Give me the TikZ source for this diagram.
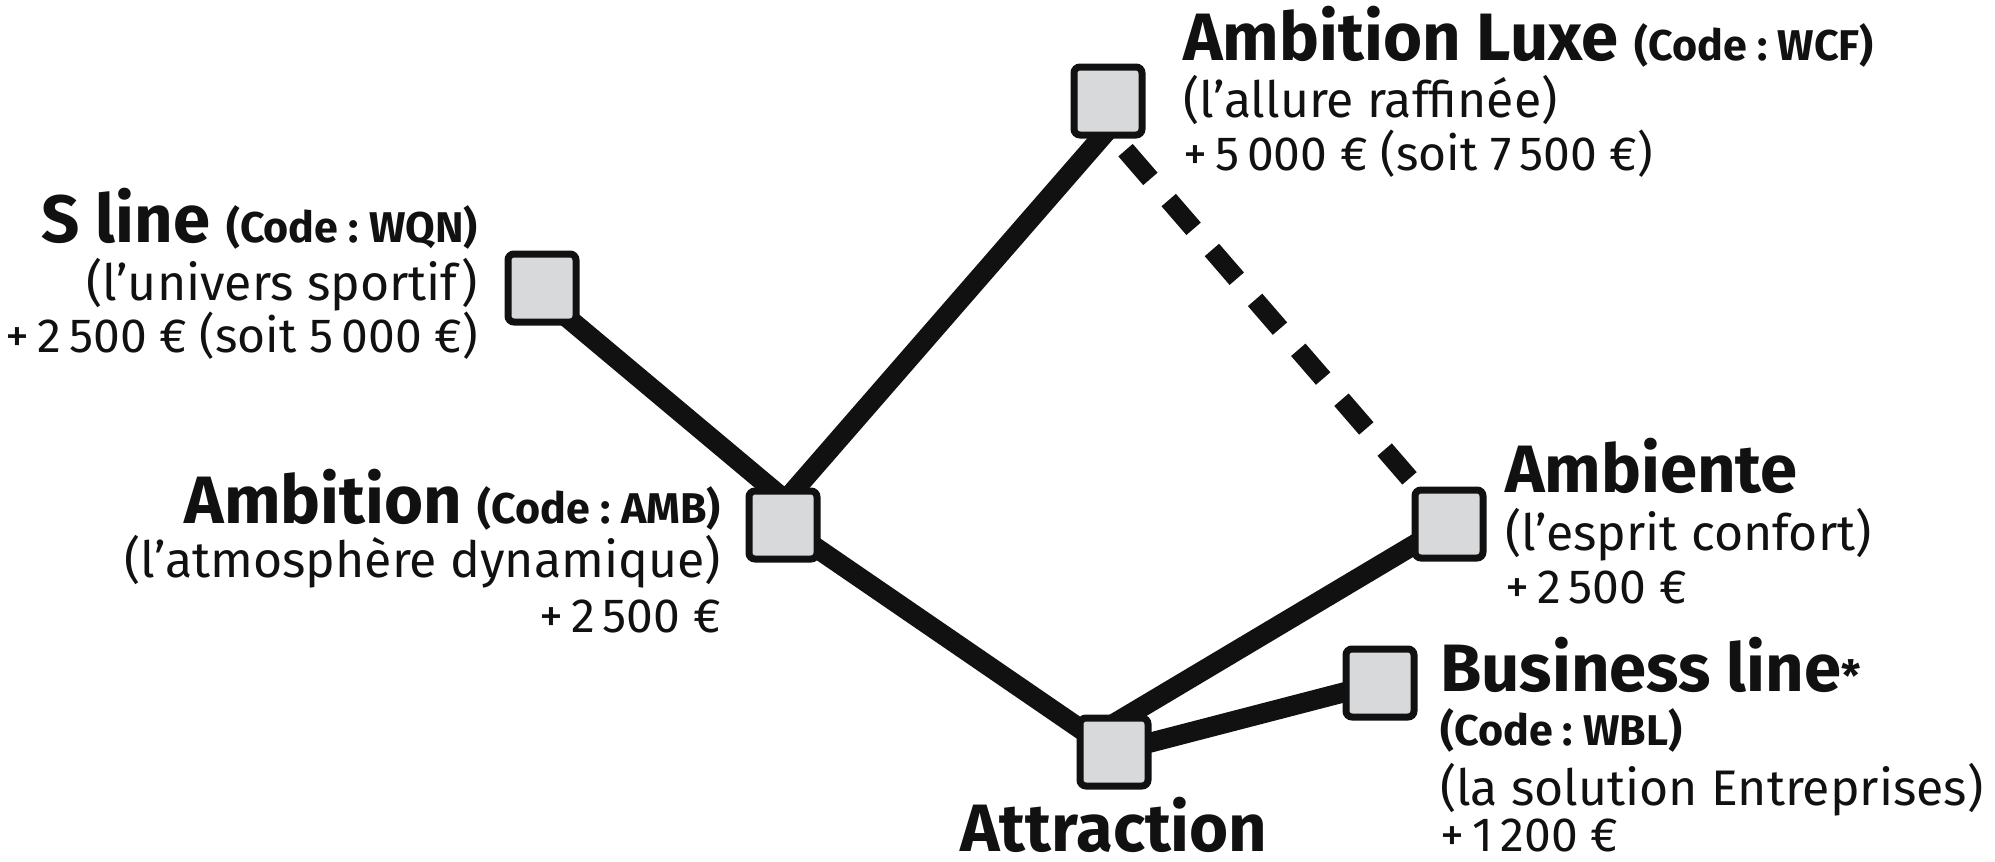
\documentclass[tikz,border=0pt]{standalone}
\usepackage{fontspec}
\setmainfont{Fira Sans}
\usetikzlibrary{backgrounds}
\definecolor{ink}{HTML}{111111}
\definecolor{boxfill}{HTML}{D8D9DB}
\newcommand{\codesize}{\fontsize{43}{43}\selectfont}
\begin{document}
\begin{tikzpicture}[x=1pt,y=-1pt,
  opt/.style={draw=ink, fill=boxfill, line width=7pt, rounded corners=6pt, minimum size=68pt, inner sep=0pt},
  link/.style={draw=ink, line width=20pt},
  dlink/.style={draw=ink, line width=19pt, dash pattern=on 38pt off 28pt, dash phase=1pt},
  head/.style={font=\fontsize{67}{67}\selectfont\bfseries, inner sep=0pt, text=ink},
  body/.style={font=\fontsize{50}{50}\selectfont, inner sep=0pt, text=ink},
  price/.style={font=\fontsize{48}{48}\selectfont, inner sep=0pt, text=ink},
  code/.style={font=\codesize\bfseries, inner sep=0pt, text=ink}]
\useasboundingbox (0,0) rectangle (1995,862);
% option boxes
\node[opt] (sline) at (542,288) {};
\node[opt] (ambition) at (783,525) {};
\node[opt] (luxe) at (1108,101) {};
\node[opt] (ambiente) at (1449,524) {};
\node[opt] (business) at (1380,683) {};
\node[opt] (attraction) at (1114,752) {};
% connectors
\begin{scope}[on background layer]
  \draw[link] ([xshift=-10pt]sline.center) -- ([xshift=14pt,yshift=15pt]ambition.center);
  \draw[link] ([xshift=-19pt]ambition.center) -- ([xshift=25pt]luxe.center);
  \draw[link] (ambition.center) -- (attraction.center);
  \draw[link] ([xshift=-19pt,yshift=17pt]attraction.center) -- (ambiente.center);
  \draw[link] (attraction.center) -- (business.center);
  \draw[dlink] ([xshift=-25pt]luxe.center) -- (ambiente.center);
\end{scope}
% S line
\node[head, anchor=base east] (sl1) at (478,242) {S line {\codesize (Code~:~WQN)}};
\node[body, anchor=base east] (sl2) at (478,300) {(l’univers sportif)};
\node[price, anchor=base east] (sl3) at (478,352) {+\,2\,500~€ (soit 5\,000~€)};
% Ambition
\node[head, anchor=base east] (am1) at (721,523) {Ambition {\codesize (Code~:~AMB)}};
\node[body, anchor=base east] (am2) at (721,577) {(l’atmosphère dynamique)};
\node[price, anchor=base east] (am3) at (721,632) {+\,2\,500~€};
% Ambition Luxe
\node[head, anchor=base west] (lx1) at (1183,60) {Ambition Luxe {\codesize (Code~:~WCF)}};
\node[body, anchor=base west] (lx2) at (1183,117) {(l’allure raffinée)};
\node[price, anchor=base west] (lx3) at (1183,170) {+\,5\,000~€ (soit 7\,500~€)};
% Ambiente
\node[head, anchor=base west] (ab1) at (1505,492) {Ambiente};
\node[body, anchor=base west] (ab2) at (1505,550) {(l’esprit confort)};
\node[price, anchor=base west] (ab3) at (1505,603) {+\,2\,500~€};
% Business line
\node[head, anchor=base west] (bl1) at (1440,691) {Business line{\codesize *}};
\node[code, anchor=base west] (bl2) at (1440,745) {(Code~:~WBL)};
\node[body, anchor=base west] (bl3) at (1440,805) {(la solution Entreprises)};
\node[price, anchor=base west] (bl4) at (1440,851) {+\,1\,200~€};
% Attraction
\node[head, anchor=base] (at1) at (1114,851) {Attraction};
\end{tikzpicture}
\end{document}
